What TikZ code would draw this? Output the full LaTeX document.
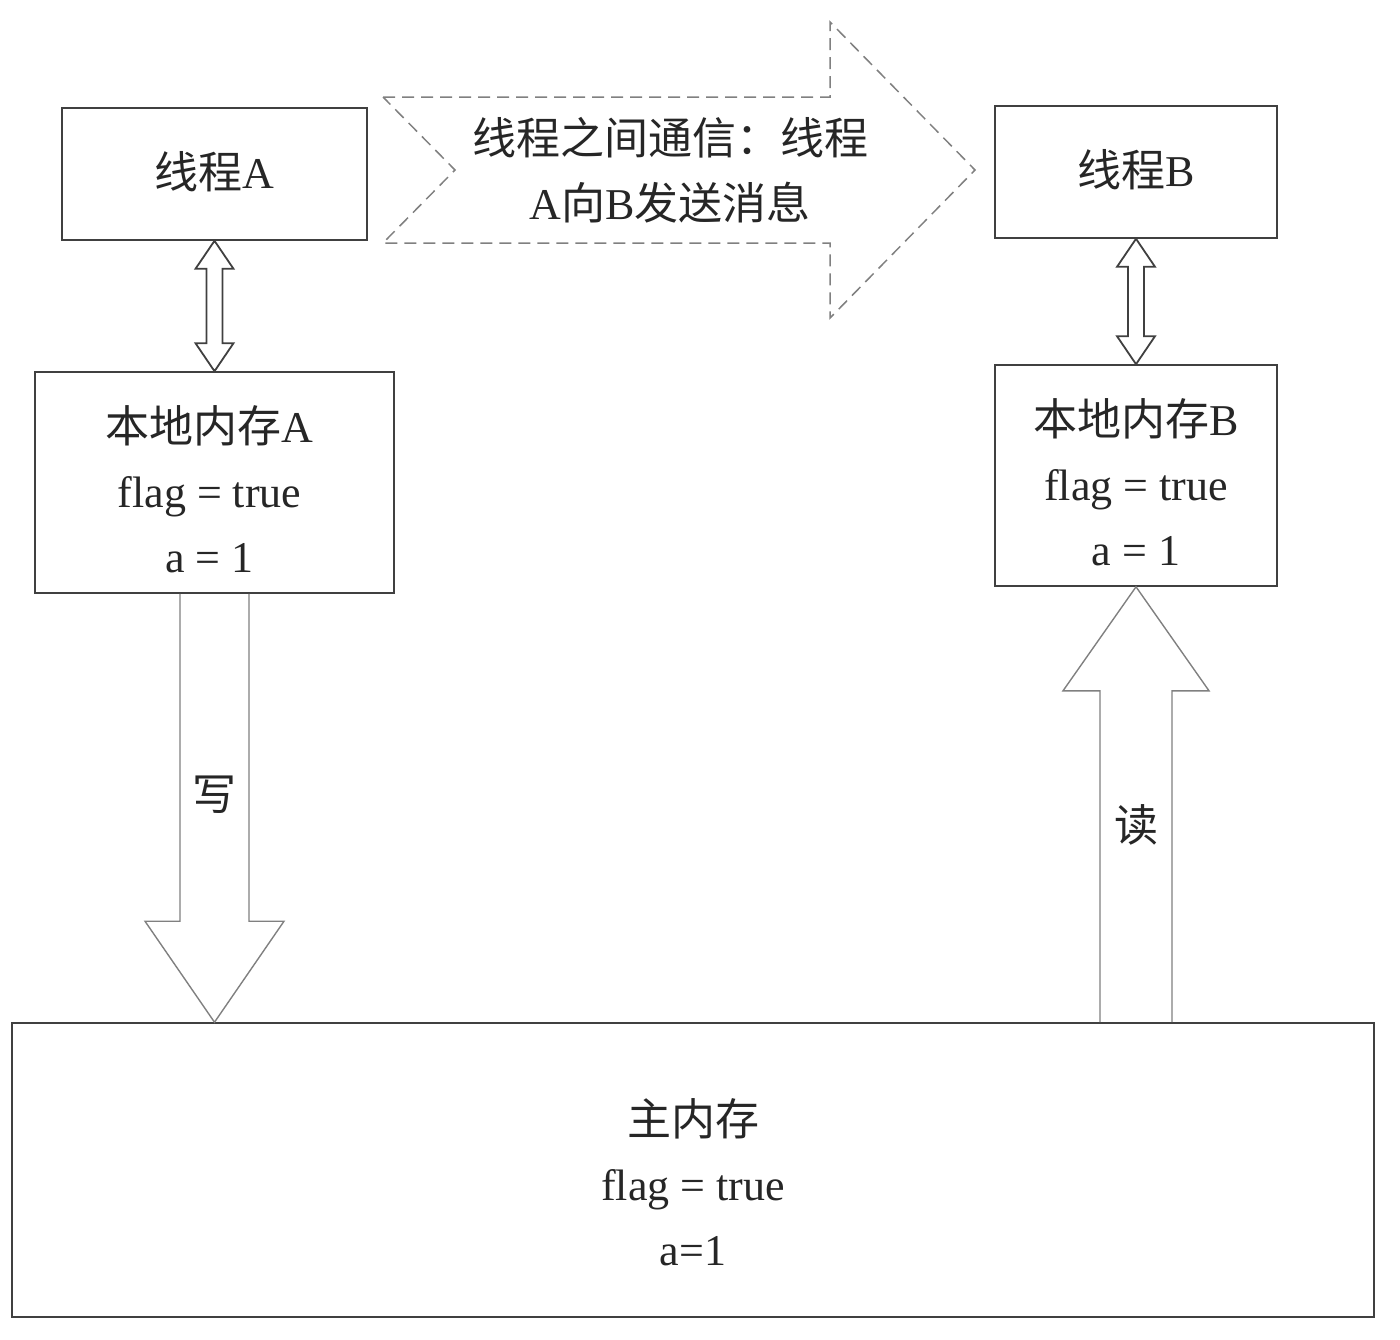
\documentclass[tikz,border=0pt]{standalone}
\usepackage{fontspec}
\setmainfont{Liberation Serif}
\newfontfamily\cjk{Noto Sans CJK SC}
\usetikzlibrary{calc}
\begin{document}
\begin{tikzpicture}[x=0.5pt,y=-0.5pt,
  box/.style={draw=black!75, line width=0.8pt, rectangle, inner sep=0pt},
  txt/.style={align=center, font=\fontsize{22}{32.5}\selectfont, text=black!85, inner sep=0pt},
  blk/.style={draw=black!50, line width=0.7pt, line join=miter},
  dbl/.style={draw=black!75, line width=0.9pt, line join=miter},
  dsh/.style={draw=black!50, line width=0.75pt, dash pattern=on 6pt off 3.5pt}]
\useasboundingbox (0,0) rectangle (1400,1339);

% boxes
\node[box, minimum width=152.5pt, minimum height=66pt] (ta) at (214.5,174) {};
\node[txt] (taT) at ($(ta.center)+(0,-2)$) {{\cjk 线程}A};
\node[box, minimum width=141pt, minimum height=66pt] (tb) at (1136,172) {};
\node[txt] (tbT) at ($(tb.center)+(0,-2)$) {{\cjk 线程}B};
\node[box, minimum width=179.5pt, minimum height=110.5pt] (la) at (214.5,482.5) {};
\node[txt] (laT) at ($(la.center)+(-5,7)$) {{\cjk 本地内存}A\\flag = true\\a = 1};
\node[box, minimum width=141pt, minimum height=110.5pt] (lb) at (1136,475.5) {};
\node[txt] (lbT) at ($(lb.center)+(0,7)$) {{\cjk 本地内存}B\\flag = true\\a = 1};
\node[box, minimum width=681pt, minimum height=147pt] (mm) at (693,1170) {};
\node[txt] (mmT) at ($(mm.center)+(0,12)$) {{\cjk 主内存}\\flag = true\\a=1};

% dashed message arrow
\draw[dsh] (383,97) -- (830,97) -- (830,22) -- (975,170) -- (830,318) -- (830,243) -- (383,243) -- (455,170) -- cycle;
\node[txt] (msg) at (670,170) {{\cjk 线程之间通信：线程}\\A{\cjk 向}B{\cjk 发送消息}};

% double arrows
\draw[dbl] (ta.south) -- ($(ta.south)+(19,28)$) -- ($(ta.south)+(8,28)$) -- ($(la.north)+(8,-28)$) -- ($(la.north)+(19,-28)$) -- (la.north) -- ($(la.north)+(-19,-28)$) -- ($(la.north)+(-8,-28)$) -- ($(ta.south)+(-8,28)$) -- ($(ta.south)+(-19,28)$) -- cycle;
\draw[dbl] (tb.south) -- ($(tb.south)+(19,28)$) -- ($(tb.south)+(8,28)$) -- ($(lb.north)+(8,-28)$) -- ($(lb.north)+(19,-28)$) -- (lb.north) -- ($(lb.north)+(-19,-28)$) -- ($(lb.north)+(-8,-28)$) -- ($(tb.south)+(-8,28)$) -- ($(tb.south)+(-19,28)$) -- cycle;

% write arrow
\coordinate (wA) at (la.south |- mm.north);
\draw[blk] ($(la.south)+(-34.5,0)$) -- ($(wA)+(-34.5,-101)$) -- ($(wA)+(-69.5,-101)$) -- (wA) -- ($(wA)+(69.5,-101)$) -- ($(wA)+(34.5,-101)$) -- ($(la.south)+(34.5,0)$);
\node[txt] (wT) at (214,795) {\cjk 写};

% read arrow
\coordinate (rB) at (lb.south |- mm.north);
\draw[blk] ($(rB)+(-36,0)$) -- ($(lb.south)+(-36,104)$) -- ($(lb.south)+(-73,104)$) -- (lb.south) -- ($(lb.south)+(73,104)$) -- ($(lb.south)+(36,104)$) -- ($(rB)+(36,0)$);
\node[txt] (rT) at (1136,825) {\cjk 读};
\end{tikzpicture}
\end{document}
